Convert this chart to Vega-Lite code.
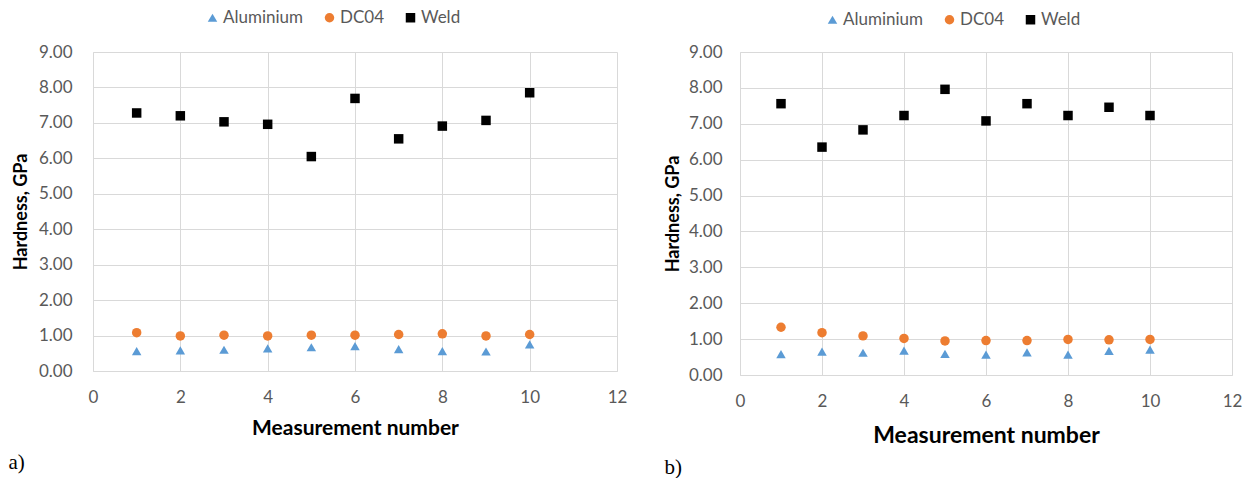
{
  "$schema": "https://vega.github.io/schema/vega-lite/v6.json",
  "background": "white",
  "padding": {"left": 8, "top": 9, "right": 0, "bottom": 0},
  "datasets": {
    "d": [
      {"p": "a", "n": 1, "m": "Aluminium", "h": 0.56},
      {"p": "a", "n": 2, "m": "Aluminium", "h": 0.58},
      {"p": "a", "n": 3, "m": "Aluminium", "h": 0.60},
      {"p": "a", "n": 4, "m": "Aluminium", "h": 0.64},
      {"p": "a", "n": 5, "m": "Aluminium", "h": 0.67},
      {"p": "a", "n": 6, "m": "Aluminium", "h": 0.70},
      {"p": "a", "n": 7, "m": "Aluminium", "h": 0.62},
      {"p": "a", "n": 8, "m": "Aluminium", "h": 0.56},
      {"p": "a", "n": 9, "m": "Aluminium", "h": 0.55},
      {"p": "a", "n": 10, "m": "Aluminium", "h": 0.75},
      {"p": "a", "n": 1, "m": "DC04", "h": 1.08},
      {"p": "a", "n": 2, "m": "DC04", "h": 0.99},
      {"p": "a", "n": 3, "m": "DC04", "h": 1.01},
      {"p": "a", "n": 4, "m": "DC04", "h": 0.99},
      {"p": "a", "n": 5, "m": "DC04", "h": 1.01},
      {"p": "a", "n": 6, "m": "DC04", "h": 1.01},
      {"p": "a", "n": 7, "m": "DC04", "h": 1.03},
      {"p": "a", "n": 8, "m": "DC04", "h": 1.05},
      {"p": "a", "n": 9, "m": "DC04", "h": 0.99},
      {"p": "a", "n": 10, "m": "DC04", "h": 1.03},
      {"p": "a", "n": 1, "m": "Weld", "h": 7.28},
      {"p": "a", "n": 2, "m": "Weld", "h": 7.20},
      {"p": "a", "n": 3, "m": "Weld", "h": 7.03},
      {"p": "a", "n": 4, "m": "Weld", "h": 6.96},
      {"p": "a", "n": 5, "m": "Weld", "h": 6.05},
      {"p": "a", "n": 6, "m": "Weld", "h": 7.69},
      {"p": "a", "n": 7, "m": "Weld", "h": 6.55},
      {"p": "a", "n": 8, "m": "Weld", "h": 6.91},
      {"p": "a", "n": 9, "m": "Weld", "h": 7.07},
      {"p": "a", "n": 10, "m": "Weld", "h": 7.85},
      {"p": "b", "n": 1, "m": "Aluminium", "h": 0.58},
      {"p": "b", "n": 2, "m": "Aluminium", "h": 0.65},
      {"p": "b", "n": 3, "m": "Aluminium", "h": 0.62},
      {"p": "b", "n": 4, "m": "Aluminium", "h": 0.68},
      {"p": "b", "n": 5, "m": "Aluminium", "h": 0.59},
      {"p": "b", "n": 6, "m": "Aluminium", "h": 0.57},
      {"p": "b", "n": 7, "m": "Aluminium", "h": 0.63},
      {"p": "b", "n": 8, "m": "Aluminium", "h": 0.57},
      {"p": "b", "n": 9, "m": "Aluminium", "h": 0.67},
      {"p": "b", "n": 10, "m": "Aluminium", "h": 0.71},
      {"p": "b", "n": 1, "m": "DC04", "h": 1.33},
      {"p": "b", "n": 2, "m": "DC04", "h": 1.18},
      {"p": "b", "n": 3, "m": "DC04", "h": 1.09},
      {"p": "b", "n": 4, "m": "DC04", "h": 1.02},
      {"p": "b", "n": 5, "m": "DC04", "h": 0.95},
      {"p": "b", "n": 6, "m": "DC04", "h": 0.96},
      {"p": "b", "n": 7, "m": "DC04", "h": 0.96},
      {"p": "b", "n": 8, "m": "DC04", "h": 0.99},
      {"p": "b", "n": 9, "m": "DC04", "h": 0.98},
      {"p": "b", "n": 10, "m": "DC04", "h": 0.99},
      {"p": "b", "n": 1, "m": "Weld", "h": 7.56},
      {"p": "b", "n": 2, "m": "Weld", "h": 6.35},
      {"p": "b", "n": 3, "m": "Weld", "h": 6.83},
      {"p": "b", "n": 4, "m": "Weld", "h": 7.23},
      {"p": "b", "n": 5, "m": "Weld", "h": 7.96},
      {"p": "b", "n": 6, "m": "Weld", "h": 7.08},
      {"p": "b", "n": 7, "m": "Weld", "h": 7.56},
      {"p": "b", "n": 8, "m": "Weld", "h": 7.23},
      {"p": "b", "n": 9, "m": "Weld", "h": 7.46},
      {"p": "b", "n": 10, "m": "Weld", "h": 7.23}
    ]
  },
  "config": {
    "font": "Lato",
    "view": {"stroke": null},
    "concat": {"spacing": 37},
    "axis": {
      "grid": true,
      "gridColor": "#d9d9d9",
      "gridWidth": 1,
      "domainColor": "#d9d9d9",
      "ticks": false,
      "tickSize": 0,
      "labelFont": "Lato",
      "labelFontSize": 17,
      "labelColor": "#595959",
      "titleFont": "Lato",
      "titleFontWeight": "bold",
      "titleColor": "#000000",
      "labelFlush": false,
      "labelOverlap": false
    },
    "legend": {
      "labelFont": "Lato",
      "labelFontSize": 17,
      "labelColor": "#595959",
      "symbolSize": 90,
      "symbolStrokeWidth": 0,
      "columnPadding": 17,
      "labelOffset": 2,
      "padding": 0
    },
    "title": {
      "font": "Liberation Serif",
      "fontSize": 21,
      "fontWeight": "normal",
      "color": "#000000",
      "orient": "bottom",
      "anchor": "start",
      "frame": "bounds"
    }
  },
  "resolve": {
    "scale": {"color": "independent", "shape": "independent"},
    "legend": {"color": "independent", "shape": "independent"}
  },
  "hconcat": [
    {
      "title": {"text": "a)", "dx": -4, "offset": 14},
      "width": 524,
      "height": 319,
      "data": {"name": "d"},
      "transform": [{"filter": "datum.p == 'a'"}],
      "mark": {"type": "point", "filled": true, "opacity": 1, "size": 90},
      "encoding": {
        "x": {
          "field": "n", "type": "quantitative",
          "scale": {"domain": [0, 12], "nice": false},
          "axis": {"values": [0, 2, 4, 6, 8, 10, 12], "title": "Measurement number", "titleFontSize": 21, "labelPadding": 18, "titlePadding": 12}
        },
        "y": {
          "field": "h", "type": "quantitative",
          "scale": {"domain": [0, 9], "nice": false},
          "axis": {"values": [0, 1, 2, 3, 4, 5, 6, 7, 8, 9], "format": ".2f", "title": "Hardness, GPa", "titleFontSize": 18, "labelPadding": 21, "titlePadding": 8}
        },
        "color": {
          "field": "m", "type": "nominal",
          "scale": {"domain": ["Aluminium", "DC04", "Weld"], "range": ["#5B9BD5", "#ED7D31", "#000000"]},
          "legend": {"orient": "none", "legendX": 111, "legendY": -43, "direction": "horizontal", "title": null}
        },
        "shape": {
          "field": "m", "type": "nominal",
          "scale": {"domain": ["Aluminium", "DC04", "Weld"], "range": ["triangle-up", "circle", "square"]},
          "legend": {"orient": "none", "legendX": 111, "legendY": -43, "direction": "horizontal", "title": null}
        }
      }
    },
    {
      "title": {"text": "b)", "dx": 0, "offset": 10},
      "width": 492,
      "height": 323,
      "data": {"name": "d"},
      "transform": [{"filter": "datum.p == 'b'"}],
      "mark": {"type": "point", "filled": true, "opacity": 1, "size": 90},
      "encoding": {
        "x": {
          "field": "n", "type": "quantitative",
          "scale": {"domain": [0, 12], "nice": false},
          "axis": {"values": [0, 2, 4, 6, 8, 10, 12], "title": "Measurement number", "titleFontSize": 23, "labelPadding": 18, "titlePadding": 15}
        },
        "y": {
          "field": "h", "type": "quantitative",
          "scale": {"domain": [0, 9], "nice": false},
          "axis": {"values": [0, 1, 2, 3, 4, 5, 6, 7, 8, 9], "format": ".2f", "title": "Hardness, GPa", "titleFontSize": 18, "labelPadding": 18, "titlePadding": 6}
        },
        "color": {
          "field": "m", "type": "nominal",
          "scale": {"domain": ["Aluminium", "DC04", "Weld"], "range": ["#5B9BD5", "#ED7D31", "#000000"]},
          "legend": {"orient": "none", "legendX": 84, "legendY": -41, "direction": "horizontal", "title": null}
        },
        "shape": {
          "field": "m", "type": "nominal",
          "scale": {"domain": ["Aluminium", "DC04", "Weld"], "range": ["triangle-up", "circle", "square"]},
          "legend": {"orient": "none", "legendX": 84, "legendY": -41, "direction": "horizontal", "title": null}
        }
      }
    }
  ]
}
